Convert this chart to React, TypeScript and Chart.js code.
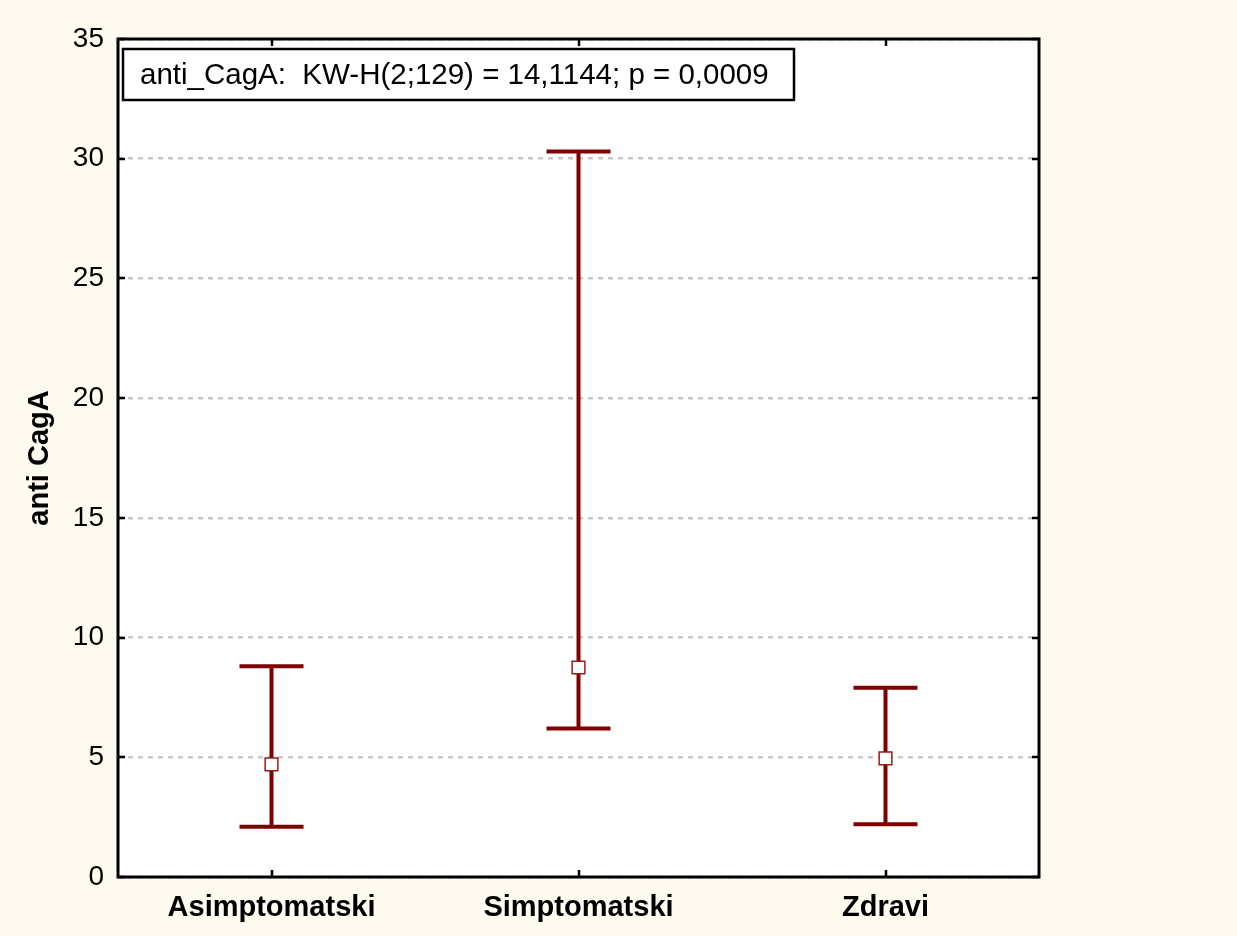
import React, { useEffect, useRef } from 'react';
import { Chart, registerables } from 'chart.js';

Chart.register(...registerables);

const categories = ['Asimptomatski', 'Simptomatski', 'Zdravi'];
const medians = [4.7, 8.75, 4.95];
const lowers = [2.1, 6.2, 2.2];
const uppers = [8.8, 30.3, 7.9];
const yMin = 0;
const yMax = 35;
const yStep = 5;
const yTitle = 'anti CagA';
const legendText = 'anti_CagA:  KW-H(2;129) = 14,1144; p = 0,0009';

const RED = '#800000';
const FONT = '"Liberation Sans", Arial, sans-serif';

const framePlugin = {
  id: 'framePlugin',
  beforeDraw(chart: any) {
    const { ctx, chartArea: a } = chart;
    ctx.save();
    ctx.fillStyle = '#fffaf0';
    ctx.fillRect(0, 0, chart.width, chart.height);
    ctx.fillStyle = '#ffffff';
    ctx.fillRect(a.left, a.top, a.right - a.left, a.bottom - a.top);
    ctx.restore();
  },
  beforeDatasetsDraw(chart: any) {
    const { ctx } = chart;
    const x = chart.scales.x;
    const y = chart.scales.y;
    ctx.save();
    ctx.strokeStyle = RED;
    ctx.lineWidth = 4;
    ctx.lineCap = 'butt';
    categories.forEach((_, i) => {
      const px = x.getPixelForValue(i);
      const pl = y.getPixelForValue(lowers[i]);
      const pu = y.getPixelForValue(uppers[i]);
      const hw = 32;
      ctx.beginPath();
      ctx.moveTo(px, pl);
      ctx.lineTo(px, pu);
      ctx.moveTo(px - hw, pu);
      ctx.lineTo(px + hw, pu);
      ctx.moveTo(px - hw, pl);
      ctx.lineTo(px + hw, pl);
      ctx.stroke();
    });
    ctx.restore();
  },
  afterDraw(chart: any) {
    const { ctx, chartArea: a } = chart;
    const x = chart.scales.x;
    const y = chart.scales.y;
    ctx.save();
    ctx.strokeStyle = '#000';
    ctx.lineWidth = 2.5;
    const tl = 7;
    y.ticks.forEach((t: any) => {
      const py = Math.round(y.getPixelForValue(t.value));
      ctx.beginPath();
      ctx.moveTo(a.left, py);
      ctx.lineTo(a.left + tl, py);
      ctx.moveTo(a.right, py);
      ctx.lineTo(a.right - tl, py);
      ctx.stroke();
    });
    categories.forEach((_, i) => {
      const px = Math.round(x.getPixelForValue(i));
      ctx.beginPath();
      ctx.moveTo(px, a.bottom);
      ctx.lineTo(px, a.bottom - tl);
      ctx.moveTo(px, a.top);
      ctx.lineTo(px, a.top + tl);
      ctx.stroke();
    });
    ctx.lineWidth = 3;
    ctx.strokeRect(a.left, a.top, a.right - a.left, a.bottom - a.top);
    const bx = a.left + 5;
    const by = a.top + 10;
    const bw = 671;
    const bh = 51;
    ctx.fillStyle = '#fff';
    ctx.fillRect(bx, by, bw, bh);
    ctx.lineWidth = 2.5;
    ctx.strokeRect(bx, by, bw, bh);
    ctx.fillStyle = '#000';
    ctx.font = '29.5px ' + FONT;
    ctx.textBaseline = 'alphabetic';
    ctx.textAlign = 'left';
    ctx.fillText(legendText, bx + 17, by + 35);
    ctx.restore();
  },
};

export default function App() {
  const ref = useRef<HTMLCanvasElement>(null);
  useEffect(() => {
    document.body.style.margin = '0';
    document.body.style.background = '#fffaf0';
    const yTicks: number[] = [];
    for (let v = yMin; v <= yMax; v += yStep) yTicks.push(v);
    const chart = new Chart(ref.current!, {
      type: 'line',
      data: {
        labels: categories,
        datasets: [
          {
            data: medians,
            showLine: false,
            pointStyle: 'rect',
            pointRadius: 9,
            pointHoverRadius: 9,
            pointBackgroundColor: '#ffffff',
            pointBorderColor: '#9a1a1a',
            pointBorderWidth: 1.5,
          },
        ],
      },
      options: {
        responsive: false,
        animation: false,
        events: [],
        layout: { padding: { top: 39, right: 198, bottom: 0, left: 0 } },
        plugins: { legend: { display: false }, tooltip: { enabled: false } },
        scales: {
          x: {
            type: 'category',
            offset: true,
            grid: { display: false, drawTicks: false },
            border: { display: false },
            ticks: {
              color: '#000',
              padding: 14,
              font: { family: FONT, size: 29, weight: 'bold' },
            },
            afterFit(s: any) {
              s.height = 59;
            },
          },
          y: {
            min: yMin,
            max: yMax,
            afterBuildTicks(s: any) {
              s.ticks = yTicks.map((v) => ({ value: v }));
            },
            grid: {
              color: '#c8c8c8',
              lineWidth: 2.5,
              drawTicks: false,
            },
            border: { display: false, dash: [5, 5] },
            ticks: {
              color: '#000',
              padding: 14,
              font: { family: FONT, size: 28 },
            },
            title: {
              display: true,
              text: yTitle,
              color: '#000',
              padding: { top: 23, bottom: 0 },
              font: { family: FONT, size: 29, weight: 'bold' },
            },
            afterFit(s: any) {
              s.width = 118;
            },
          },
        },
      },
      plugins: [framePlugin],
    });
    return () => chart.destroy();
  }, []);
  return (
    <div style={{ width: 1237, height: 936 }}>
      <canvas ref={ref} width={1237} height={936} style={{ display: 'block' }} />
    </div>
  );
}
